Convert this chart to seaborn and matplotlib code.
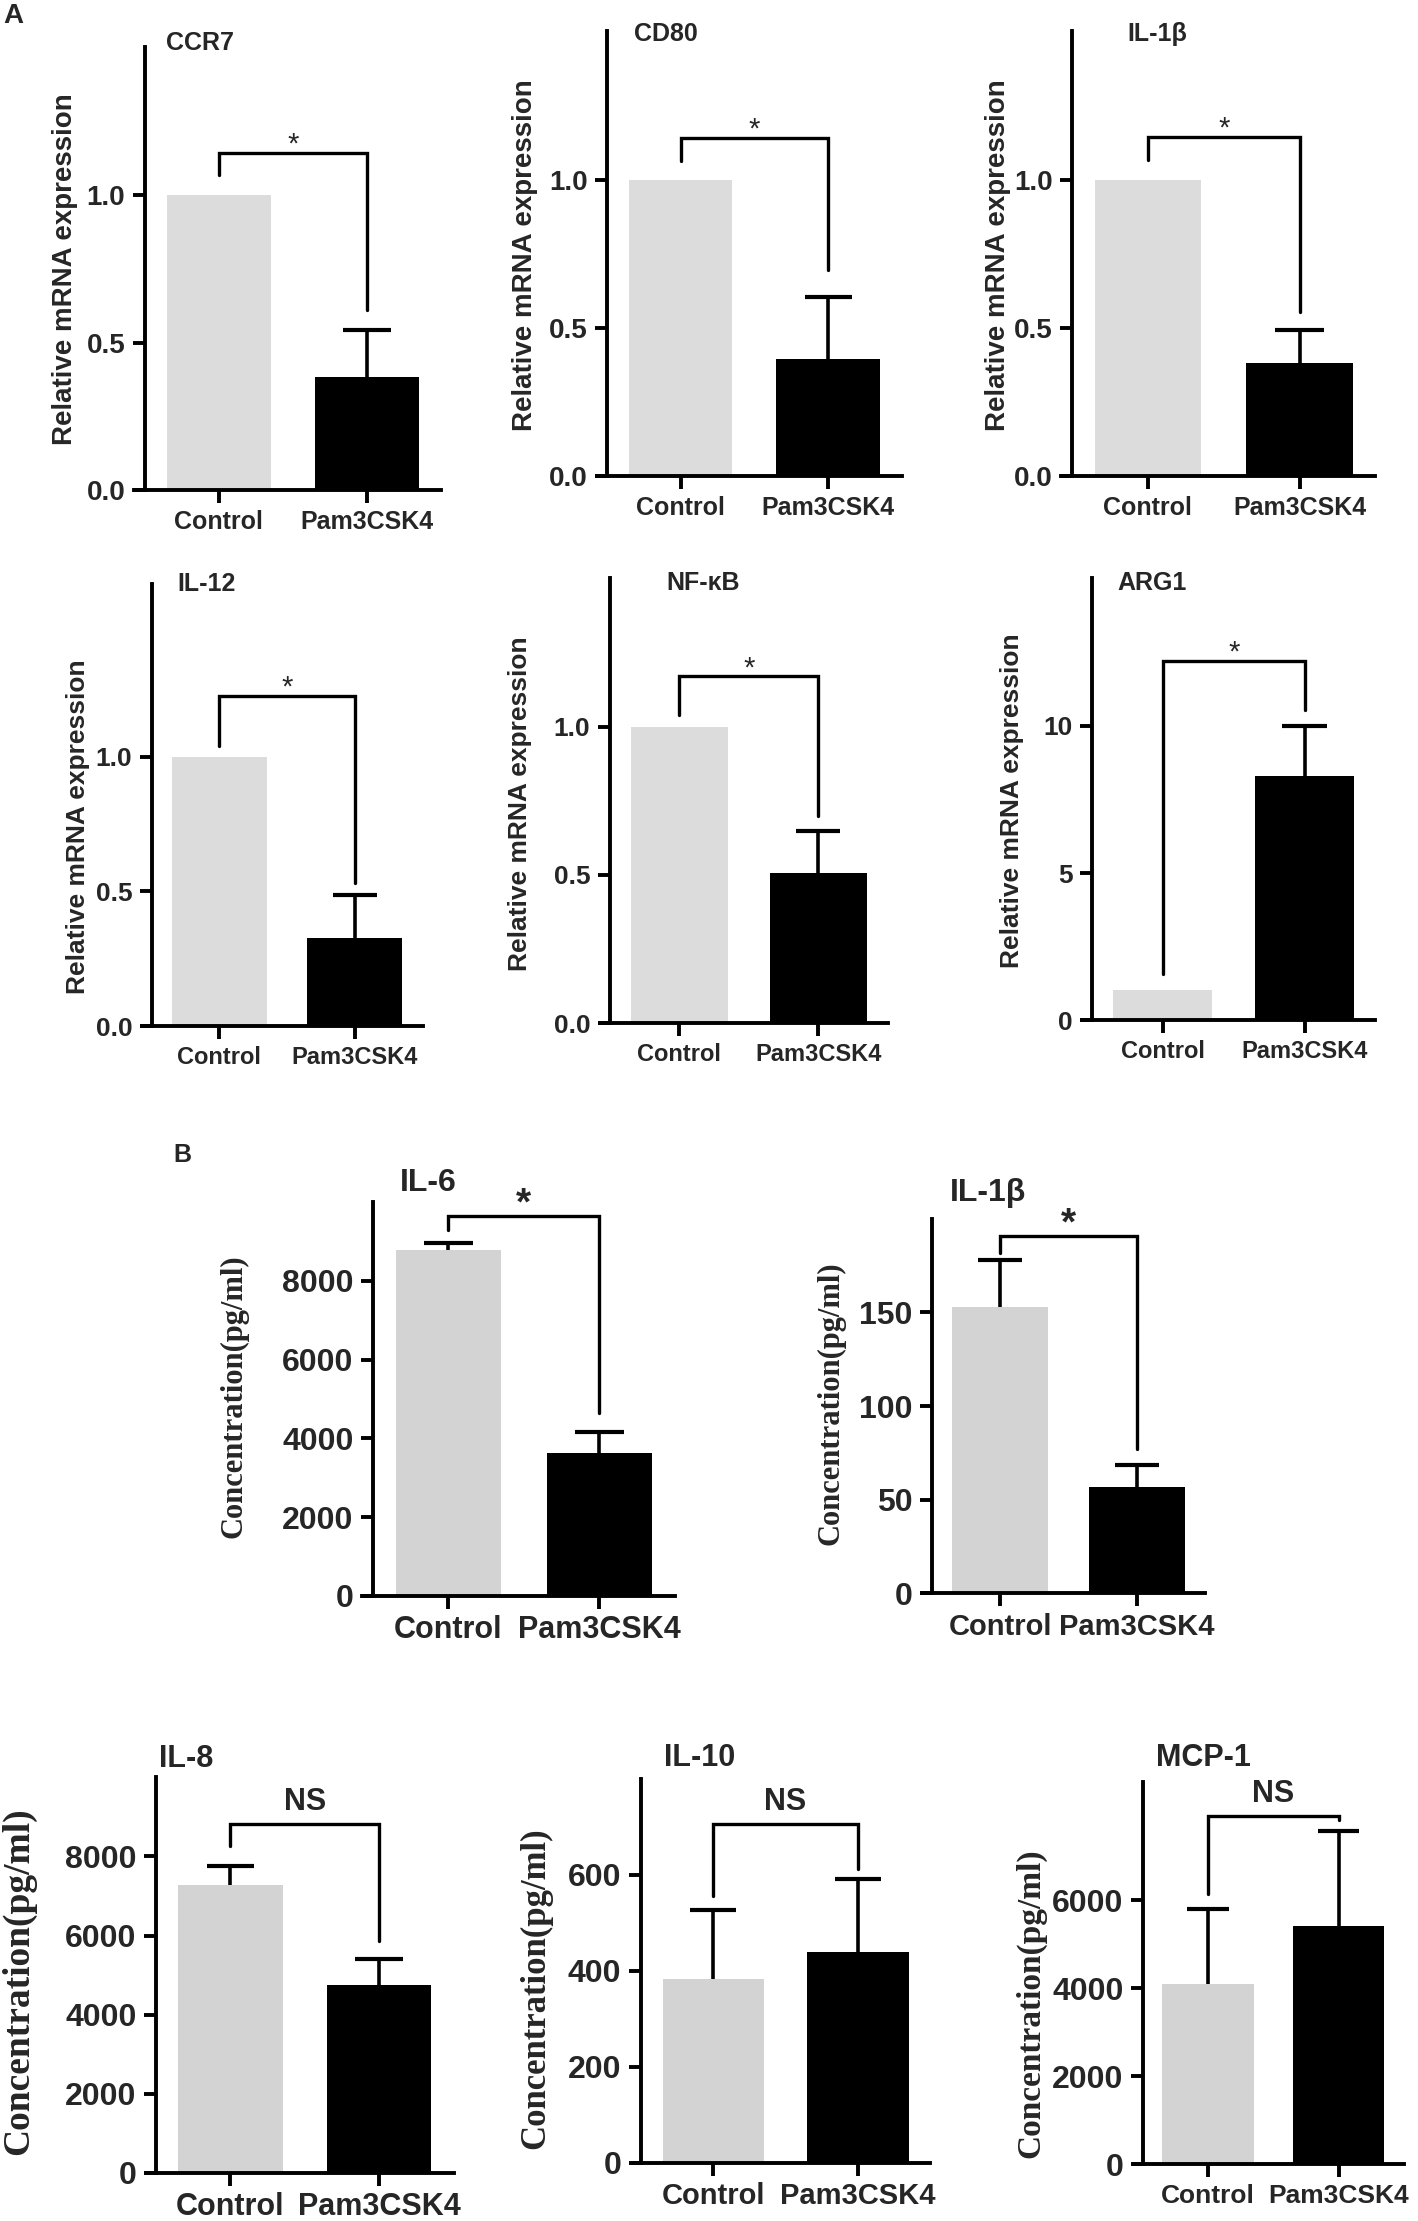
import numpy as np
import pandas as pd
import matplotlib
matplotlib.use('Agg')
import matplotlib.pyplot as plt
import seaborn as sns

groups = ['Control', 'Pam3CSK4']

# A: relative mRNA expression (Control = 1)
genes = ['CCR7', 'CD80', 'IL-1β', 'IL-12', 'NF-κB', 'ARG1']
mrna_control = [1.0, 1.0, 1.0, 1.0, 1.0, 1.04]
mrna_pam = [0.383, 0.394, 0.38, 0.328, 0.506, 8.28]
mrna_pam_sem = [0.16, 0.21, 0.112, 0.16, 0.143, 1.72]
mrna_sig = ['*', '*', '*', '*', '*', '*']
mrna_bracket = [1.14, 1.14, 1.145, 1.224, 1.169, 12.2]
mrna_leg_left = [1.066, 1.063, 1.066, 1.038, 1.038, 1.57]
mrna_leg_right = [0.61, 0.695, 0.555, 0.532, 0.698, 10.53]

# B: cytokine concentration (pg/ml)
cytokines = ['IL-6', 'IL-1β', 'IL-8', 'IL-10', 'MCP-1']
conc_control = [8770, 153, 7290, 383, 4091]
conc_control_sem = [195, 25.1, 465, 143, 1704]
conc_pam = [3640, 56.6, 4737, 440, 5417]
conc_pam_sem = [527, 11.9, 658, 152, 2159]
conc_sig = ['*', '*', 'NS', 'NS', 'NS']
conc_bracket = [9650, 191, 8826, 705, 7917]
conc_leg_left = [9280, 182, 8253, 556, 6152]
conc_leg_right = [4650, 77, 5859, 612, 7818]

# panel geometry on a 1000 x 1567 grid:
# y-axis x, x-axis right end, axis top, axis bottom, ymax, tick step, last tick
W, H = 1000, 1567
geom_a = [(102, 311, 33, 346, 1.5, 0.5, 1.0),
          (428, 636, 22, 336, 1.5, 0.5, 1.0),
          (756, 970, 22, 336, 1.5, 0.5, 1.0),
          (107, 298, 412, 724, 1.64, 0.5, 1.0),
          (430, 626, 408, 722, 1.5, 0.5, 1.0),
          (770, 970, 408, 720, 15, 5, 10)]
ylab_a = [(46, 190), (370, 180), (704, 180), (55, 583), (367, 567), (714, 565)]
title_a = [(117, 30), (447, 24), (795, 24), (125, 412), (470, 411), (788, 411)]

geom_b = [(263, 476, 848, 1126, 10000, 2000, 8000),
          (657, 850, 860, 1124, 200, 50, 150),
          (110, 320, 1254, 1533, 10000, 2000, 8000),
          (452, 656, 1255, 1526, 800, 200, 600),
          (806, 990, 1257, 1527, 8700, 2000, 6000)]
ylab_b = [(165, 985), (586, 990), (13, 1398), (378, 1403), (727, 1413)]
title_b = [(282, 835), (670, 842), (112, 1241), (468, 1240), (815, 1240)]
ylab_size_b = [22, 22, 27, 25, 24]
xlab_size_b = [22, 21, 22, 21, 19]

sns.set_theme(style='ticks')
plt.rcParams['font.family'] = ['Liberation Sans', 'DejaVu Sans']
plt.rcParams['font.weight'] = 'bold'
SANS = ['Liberation Sans', 'DejaVu Sans']
NARROW = ['Liberation Sans Narrow', 'Liberation Sans', 'DejaVu Sans']
SERIF = ['Liberation Serif', 'DejaVu Serif']

fig = plt.figure(figsize=(14.18, 22.21), dpi=100)
LW = 2.8


def fx(x):
    return x / W


def fy(y):
    return 1 - y / H


def panel(geom, means, errs, gray, name, title_xy, ylab_xy, ylabel, sizes,
          sig, br, leg_l, leg_r, sig_off, tick_family=SANS, ylab_family=SANS,
          star_bold=False):
    yx, rx, top, bot, ymax, step, tmax = geom
    unit = (rx - yx) / 2.0
    left = yx - 0.07 * unit
    ax = fig.add_axes([fx(left), fy(bot), (rx - left) / W, (bot - top) / H])
    df = pd.DataFrame({'group': groups, 'value': means})
    sns.barplot(data=df, x='group', y='value', hue='group', palette=[gray, 'black'],
                width=0.7, saturation=1, linewidth=0, legend=False, ax=ax)
    for i, (m, e) in enumerate(zip(means, errs)):
        if e > 0:
            ax.plot([i, i], [m, m + e], color='black', lw=2.6, zorder=3,
                    solid_capstyle='butt')
            ax.plot([i - 0.16, i + 0.16], [m + e, m + e], color='black', lw=3.0,
                    zorder=3, solid_capstyle='butt')
    # significance bracket
    ax.plot([0, 0, 1, 1], [leg_l, br, br, leg_r], color='black', lw=2.4,
            clip_on=False, solid_joinstyle='miter', zorder=4)
    t_size, x_size, yl_size, ti_size, s_size = sizes
    ax.annotate(sig, (0.5, br), xytext=(0, sig_off), textcoords='offset points',
                ha='center', va='center', fontsize=s_size,
                fontweight='bold' if star_bold else 'normal', family=SANS,
                annotation_clip=False)

    ax.set_xlim(-0.57, 1.5)
    ax.set_ylim(0, ymax)
    ax.spines['left'].set_position(('data', -0.5))
    for s in ['top', 'right']:
        ax.spines[s].set_visible(False)
    for s in ['left', 'bottom']:
        ax.spines[s].set_linewidth(LW)
        ax.spines[s].set_color('black')
    ticks = np.arange(0, tmax + step / 2, step)
    if step < 1:
        labels = ['{:.1f}'.format(t) for t in ticks]
    else:
        labels = ['{:d}'.format(int(t)) for t in ticks]
    ax.set_yticks(ticks, labels, family=tick_family, fontsize=t_size, fontweight='bold')
    ax.set_xticks([0, 1], groups, fontsize=x_size, fontweight='bold', family=SANS)
    ax.tick_params(axis='both', length=9, width=LW, color='black', pad=5)
    ax.set_xlabel('')
    ax.set_ylabel(ylabel, fontsize=yl_size, fontweight='bold', family=ylab_family,
                  va='center')
    ax.yaxis.set_label_coords(fx(ylab_xy[0]), fy(ylab_xy[1]), transform=fig.transFigure)
    fig.text(fx(title_xy[0]), fy(title_xy[1]), name, ha='left', va='center',
             fontsize=ti_size, fontweight='bold', family=SANS)
    ax.set_facecolor('white')
    return ax


for k in range(6):
    sizes = (20, 18, 20, 18, 21) if k < 3 else (19, 17, 19, 18, 21)
    panel(geom_a[k], [mrna_control[k], mrna_pam[k]], [0, mrna_pam_sem[k]], '#dcdcdc',
          genes[k], title_a[k], ylab_a[k], 'Relative mRNA expression', sizes,
          mrna_sig[k], mrna_bracket[k], mrna_leg_left[k], mrna_leg_right[k], 6)

for k in range(5):
    if k < 2:
        sizes = (23, xlab_size_b[k], ylab_size_b[k], 23, 28)
        tf = SANS
        off = 8
    else:
        sizes = (23, xlab_size_b[k], ylab_size_b[k], 22, 22)
        tf = NARROW
        off = 16
    panel(geom_b[k], [conc_control[k], conc_pam[k]], [conc_control_sem[k], conc_pam_sem[k]],
          '#d3d3d3', cytokines[k], title_b[k], ylab_b[k], 'Concentration(pg/ml)', sizes,
          conc_sig[k], conc_bracket[k], conc_leg_left[k], conc_leg_right[k], off,
          tick_family=tf, ylab_family=SERIF, star_bold=True)

fig.text(fx(2), fy(11), 'A', ha='left', va='center', fontsize=20, fontweight='bold')
fig.text(fx(122), fy(815), 'B', ha='left', va='center', fontsize=18, fontweight='bold')

fig.savefig('out.png', dpi=100, facecolor='white')
